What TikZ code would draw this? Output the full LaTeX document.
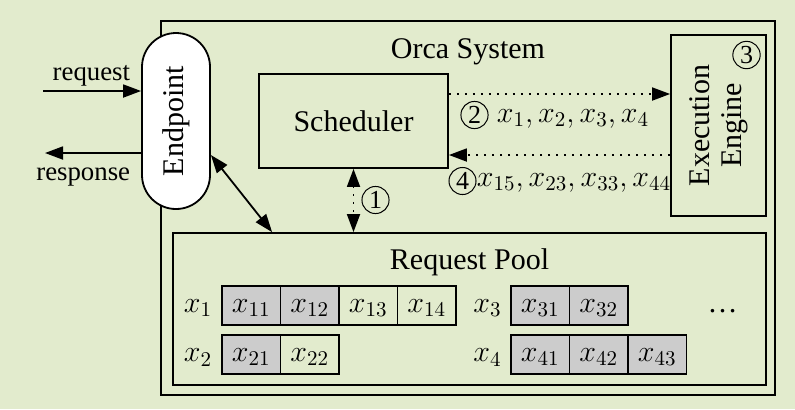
\RequirePackage{fix-cm}
\documentclass[tikz,border=0pt]{standalone}
\usepackage[no-math]{fontspec}
\setmainfont{Liberation Serif}
\usetikzlibrary{arrows.meta}
\definecolor{bggreen}{RGB}{226,235,205}
\definecolor{cellgray}{RGB}{204,204,204}
\begin{document}
\begin{tikzpicture}[x=0.5pt,y=-0.5pt,line width=0.9pt,>={Triangle[length=9pt,width=6.5pt]}]
\tikzstyle{every node}+=[inner sep=0pt,font=\fontsize{15}{17}\selectfont]
\tikzstyle{box}=[draw]
\tikzstyle{cell}=[draw,minimum width=29.25pt,minimum height=19.5pt,text height=9pt,text depth=2.5pt]
\tikzstyle{numcirc}=[draw,circle,inner sep=1pt,minimum size=12.8pt,line width=0.5pt,font=\fontsize{13}{15}\selectfont]
\tikzstyle{dotline}=[dash pattern=on 1pt off 3pt]
\tikzstyle{small}=[font=\fontsize{13.4}{16}\selectfont]
\fill [bggreen] (0,0) rectangle (795,409);
% system frame
\node [box,minimum width=307pt,minimum height=187pt] (orca) at (468,208) {};
\node [anchor=base] (orcatitle) at (468,58) {Orca System};
% endpoint
\node [box,fill=white,rounded corners=17pt,minimum width=34pt,minimum height=88pt] (ep) at (176,121) {\rotatebox{90}{Endpoint}};
\coordinate (reqin) at (43,91);
\coordinate (respout) at (45,153);
\draw [->] (reqin) -- (reqin -| ep.west);
\draw [->] (respout -| ep.west) -- (respout);
\node [small,anchor=base east] (reqlabel) at (131,80) {request};
\node [small,anchor=base east] (resplabel) at (131,180) {response};
% scheduler and engine
\node [box,minimum width=94.5pt,minimum height=47pt] (sched) at (353.5,121) {Scheduler};
\node [box,minimum width=47.5pt,minimum height=90.5pt] (exec) at (718.5,125.5) {\rotatebox{90}{\begin{tabular}{@{}c@{}}Execution\\[-1pt]Engine\end{tabular}}};
\node [numcirc] (n3) at (746.5,55) {3};
\draw [->,dotline] ([yshift=13.5pt]sched.east) -- ([yshift=13.5pt]sched.east -| exec.west);
\node [numcirc] (n2) at (474.5,115) {2};
\node [anchor=base west] (sent) at (496,122) {$x_1, x_2, x_3, x_4$};
\draw [->,dotline] ([yshift=-17pt]sched.east -| exec.west) -- ([yshift=-17pt]sched.east);
\node [numcirc] (n4) at (462.5,181) {4};
\node [anchor=base west] (back) at (476,186) {$x_{15}, x_{23}, x_{33}, x_{44}$};
% request pool
\node [box,minimum width=296.5pt,minimum height=76pt] (pool) at (469.5,309) {};
\node [anchor=base] (pooltitle) at (469.5,269) {Request Pool};
\draw [<->,dotline] (sched.south) -- (sched.south |- pool.north);
\node [numcirc] (n1) at (375.5,200) {1};
\draw [<->] ([yshift=-17pt]ep.east) -- ([xshift=50pt]pool.north west);
\node [anchor=base] (lx1) at (198,312) {$x_1$};
\node [cell,fill=cellgray] (x11) at (251.25,305.5) {$x_{11}$};
\node [cell,fill=cellgray] (x12) at (309.75,305.5) {$x_{12}$};
\node [cell] (x13) at (368.25,305.5) {$x_{13}$};
\node [cell] (x14) at (426.75,305.5) {$x_{14}$};
\node [anchor=base] (lx2) at (198,361.5) {$x_2$};
\node [cell,fill=cellgray] (x21) at (251.25,354.5) {$x_{21}$};
\node [cell] (x22) at (309.75,354.5) {$x_{22}$};
\node [anchor=base] (lx3) at (487.5,312) {$x_3$};
\node [cell,fill=cellgray] (x31) at (540.25,305.5) {$x_{31}$};
\node [cell,fill=cellgray] (x32) at (598.75,305.5) {$x_{32}$};
\node [anchor=base] (lx4) at (487.5,361.5) {$x_4$};
\node [cell,fill=cellgray] (x41) at (540.25,354.5) {$x_{41}$};
\node [cell,fill=cellgray] (x42) at (598.75,354.5) {$x_{42}$};
\node [cell,fill=cellgray] (x43) at (657.25,354.5) {$x_{43}$};
\node [anchor=base] (more) at (722.5,312) {\dots};
\end{tikzpicture}
\end{document}
